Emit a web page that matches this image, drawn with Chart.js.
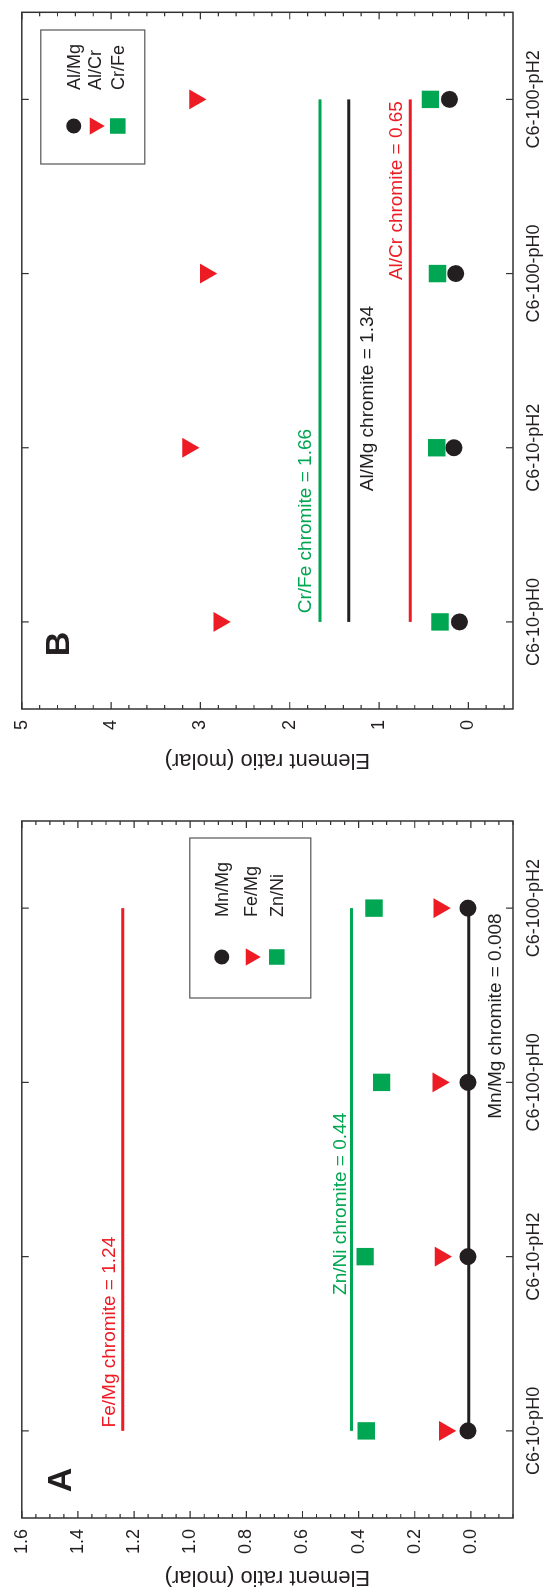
<!DOCTYPE html>
<html>
<head>
<meta charset="utf-8">
<script src="https://cdn.jsdelivr.net/npm/chart.js@4.4.1/dist/chart.umd.min.js"></script>
<style>
  html, body { margin: 0; padding: 0; background: #fff; overflow: hidden; }
  /* the figure is laid out landscape, then turned a quarter to the left */
  #fig { position: absolute; left: 0; top: 0; width: 1596px; height: 544px;
         transform-origin: 0 0; transform: translateY(1596px) rotate(-90deg); }
  .panel { position: absolute; top: 0; height: 544px; }
  #wrapA { left: 0; width: 800px; }
  #wrapB { left: 817px; width: 779px; }
</style>
</head>
<body>
<div id="fig">
  <div class="panel" id="wrapA"><canvas id="chartA" width="800" height="544"></canvas></div>
  <div class="panel" id="wrapB"><canvas id="chartB" width="779" height="544"></canvas></div>
</div>
<script>
const categories = ["C6-10-pH0", "C6-10-pH2", "C6-100-pH0", "C6-100-pH2"];

// panel A
const mnMg = [0.010, 0.010, 0.010, 0.010];
const feMg = [0.093, 0.108, 0.116, 0.113];
const znNi = [0.373, 0.377, 0.318, 0.345];
const mnMgChromite = 0.008;
const feMgChromite = 1.24;
const znNiChromite = 0.425;
const ticksA = [0, 0.2, 0.4, 0.6, 0.8, 1.0, 1.2, 1.4, 1.6];

// panel B
const alMg = [0.10, 0.16, 0.14, 0.21];
const alCr = [2.79, 3.14, 2.94, 3.06];
const crFe = [0.317, 0.353, 0.345, 0.425];
const alMgChromite = 1.34;
const alCrChromite = 0.65;
const crFeChromite = 1.66;
const ticksB = [0, 1, 2, 3, 4, 5];

const red = "#ed1c24", green = "#00a651", black = "#231f20";
const FONT = '"Liberation Sans", Arial, Helvetica, sans-serif';
Chart.defaults.font.family = FONT;
Chart.defaults.color = black;

function markers(label, data, style, color, radius, rotation) {
  return {
    label, data, showLine: false, order: 1, inLegend: true,
    pointStyle: style, pointRadius: radius, pointHoverRadius: radius,
    pointRotation: rotation || 0,
    pointBackgroundColor: color, pointBorderColor: color, pointBorderWidth: 0,
    borderColor: color, backgroundColor: color
  };
}

function refLine(label, value, color) {
  return {
    label, data: categories.map(() => value), order: 2, inLegend: false,
    borderColor: color, borderWidth: 3, pointRadius: 0, fill: false
  };
}

// box round the plot, with inward ticks on all four sides
const framePlugin = {
  id: "frame",
  afterDatasetsDraw(chart, args, opts) {
    const { ctx, chartArea: a, scales: { x, y } } = chart;
    ctx.save();
    ctx.strokeStyle = "#333";
    ctx.lineWidth = 1.5;
    ctx.strokeRect(a.left, a.top, a.right - a.left, a.bottom - a.top);
    ctx.lineWidth = 1.2;
    ctx.beginPath();
    const side = (py, len) => {
      ctx.moveTo(a.left, py); ctx.lineTo(a.left + len, py);
      ctx.moveTo(a.right, py); ctx.lineTo(a.right - len, py);
    };
    const first = Math.ceil(y.min / opts.minor - 1e-6);
    const last = Math.floor(y.max / opts.minor + 1e-6);
    for (let i = first; i <= last; i++) side(y.getPixelForValue(i * opts.minor), 4);
    y.ticks.forEach(t => side(y.getPixelForValue(t.value), 7));
    categories.forEach((c, i) => {
      const px = x.getPixelForValue(i);
      ctx.moveTo(px, a.bottom); ctx.lineTo(px, a.bottom - 7);
      ctx.moveTo(px, a.top); ctx.lineTo(px, a.top + 7);
    });
    ctx.stroke();
    ctx.restore();
  }
};

// the "... chromite = ..." texts beside the reference lines
const notesPlugin = {
  id: "notes",
  afterDatasetsDraw(chart, args, opts) {
    const { ctx, scales: { x, y } } = chart;
    ctx.save();
    ctx.font = "19px " + FONT;
    ctx.textBaseline = "alphabetic";
    opts.items.forEach(n => {
      ctx.fillStyle = n.color;
      ctx.textAlign = n.align;
      ctx.fillText(n.text, x.getPixelForValue(n.at), y.getPixelForValue(n.value) + n.dy);
    });
    ctx.restore();
  }
};

// boxed legend and the panel letter
const keyPlugin = {
  id: "key",
  afterDraw(chart, args, opts) {
    const { ctx, chartArea: a } = chart;
    const bx = a.left + opts.left, by = a.top + opts.top;
    ctx.save();
    ctx.strokeStyle = "#555";
    ctx.lineWidth = 1.2;
    ctx.strokeRect(bx, by, opts.width, opts.height);
    ctx.font = "18px " + FONT;
    ctx.textAlign = "left";
    ctx.textBaseline = "middle";
    chart.data.datasets.filter(d => d.inLegend).forEach((d, i) => {
      const cy = by + opts.rows[i];
      ctx.fillStyle = d.pointBackgroundColor;
      ctx.strokeStyle = d.pointBorderColor;
      Chart.helpers.drawPoint(ctx, {
        pointStyle: d.pointStyle, rotation: d.pointRotation,
        radius: opts.radius[i], borderWidth: 0
      }, bx + opts.markerX, cy);
      ctx.fillStyle = black;
      ctx.fillText(d.label, bx + opts.textX, cy + 1);
    });
    ctx.font = "bold 34px " + FONT;
    ctx.textAlign = "center";
    ctx.fillStyle = black;
    ctx.fillText(opts.letter, a.left + opts.letterX, a.top + opts.letterY);
    ctx.restore();
  }
};

function axes(min, max, ticks, fmt, yWidth) {
  return {
    x: {
      type: "category", labels: categories, offset: true,
      grid: { display: false, drawTicks: false }, border: { display: false },
      ticks: { font: { size: 18 }, padding: 10, maxRotation: 0, autoSkip: false },
      afterFit: s => { s.height = 31; }
    },
    y: {
      min, max,
      afterBuildTicks: s => { s.ticks = ticks.map(v => ({ value: v })); },
      ticks: { callback: fmt, font: { size: 18 }, padding: 11 },
      title: { display: true, text: "Element ratio (molar)", font: { size: 22 }, padding: { top: 6, bottom: 0 } },
      grid: { display: false, drawTicks: false }, border: { display: false },
      afterFit: s => { s.width = yWidth; }
    }
  };
}

const common = {
  responsive: false, animation: false, events: [],
  plugins: { legend: { display: false }, tooltip: { enabled: false } }
};

new Chart(document.getElementById("chartA"), {
  type: "line",
  data: {
    labels: categories,
    datasets: [
      markers("Mn/Mg", mnMg, "circle", black, 8.5),
      markers("Fe/Mg", feMg, "triangle", red, 11.5, 180),
      markers("Zn/Ni", znNi, "rect", green, 12.3),
      refLine("Mn/Mg chromite", mnMgChromite, black),
      refLine("Fe/Mg chromite", feMgChromite, red),
      refLine("Zn/Ni chromite", znNiChromite, green)
    ]
  },
  options: {
    ...common,
    layout: { padding: { top: 18, right: 25, bottom: 0, left: 0 } },
    scales: axes(-0.15, 1.6, ticksA, v => v.toFixed(1), 78),
    plugins: {
      ...common.plugins,
      frame: { minor: 0.05 },
      notes: { items: [
        { text: "Fe/Mg chromite = 1.24", value: feMgChromite, color: red, at: 0.02, align: "left", dy: -8 },
        { text: "Zn/Ni chromite = 0.44", value: znNiChromite, color: green, at: 0.78, align: "left", dy: -6 },
        { text: "Mn/Mg chromite = 0.008", value: mnMgChromite, color: black, at: 2.97, align: "right", dy: 32 }
      ] },
      key: { left: 520, top: 168, width: 160, height: 121, rows: [32, 61, 87],
             radius: [7.5, 10, 11], markerX: 41, textX: 81,
             letter: "A", letterX: 38, letterY: 40 }
    }
  },
  plugins: [framePlugin, notesPlugin, keyPlugin]
});

new Chart(document.getElementById("chartB"), {
  type: "line",
  data: {
    labels: categories,
    datasets: [
      markers("Al/Mg", alMg, "circle", black, 8.5),
      markers("Al/Cr", alCr, "triangle", red, 11.5, 180),
      markers("Cr/Fe", crFe, "rect", green, 12.3),
      refLine("Al/Mg chromite", alMgChromite, black),
      refLine("Al/Cr chromite", alCrChromite, red),
      refLine("Cr/Fe chromite", crFeChromite, green)
    ]
  },
  options: {
    ...common,
    layout: { padding: { top: 18, right: 3, bottom: 0, left: 0 } },
    scales: axes(-0.5, 5, ticksB, v => String(v), 70),
    plugins: {
      ...common.plugins,
      frame: { minor: 0.2 },
      notes: { items: [
        { text: "Cr/Fe chromite = 1.66", value: crFeChromite, color: green, at: 0.05, align: "left", dy: -9 },
        { text: "Al/Mg chromite = 1.34", value: alMgChromite, color: black, at: 0.75, align: "left", dy: 24 },
        { text: "Al/Cr chromite = 0.65", value: alCrChromite, color: red, at: 2.99, align: "right", dy: -8 }
      ] },
      key: { left: 545, top: 19, width: 134, height: 104, rows: [33, 54, 77],
             radius: [7.5, 10, 11], markerX: 38, textX: 74,
             letter: "B", letterX: 65, letterY: 38 }
    }
  },
  plugins: [framePlugin, notesPlugin, keyPlugin]
});
</script>
</body>
</html>
